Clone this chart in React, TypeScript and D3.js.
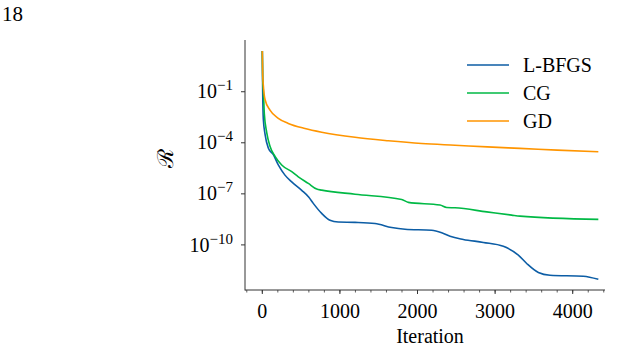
import React from "react";
import * as d3 from "d3";

// residual R vs iteration
const lbfgsIter = [0, 5, 13, 35, 77, 142, 206, 292, 379, 508, 600, 657, 765, 872, 979, 1195, 1452, 1667, 1839, 2183, 2312, 2419, 2590, 2848, 3106, 3299, 3407, 3557, 3707, 4137, 4330];
const lbfgsR = [2.5e1, 1e-1, 2.5e-3, 3.2e-4, 5.0e-5, 2.0e-5, 5.0e-6, 1.26e-6, 5.0e-7, 1.6e-7, 6.3e-8, 2.75e-8, 7.1e-9, 2.8e-9, 2.2e-9, 2.1e-9, 1.8e-9, 1.05e-9, 8.3e-10, 7.2e-10, 5.1e-10, 3.2e-10, 2.1e-10, 1.4e-10, 8.3e-11, 2.5e-11, 8.1e-12, 2.4e-12, 1.66e-12, 1.45e-12, 9.5e-13];

const cgIter = [0, 5, 13, 26, 57, 99, 164, 250, 379, 464, 593, 701, 765, 1195, 1796, 1882, 2290, 2376, 2483, 2892, 3214, 3321, 4330];
const cgR = [2.5e1, 5.0e-1, 1.26e-1, 5.0e-3, 4.0e-4, 6.3e-5, 1.6e-5, 5.0e-6, 2.0e-6, 1.0e-6, 4.1e-7, 1.9e-7, 1.66e-7, 9.5e-8, 4.7e-8, 3.16e-8, 2.2e-8, 1.58e-8, 1.51e-8, 8.7e-9, 5.6e-9, 4.9e-9, 3.16e-9];

const gdIter = [0, 5, 13, 35, 99, 206, 335, 550, 765, 1195, 1624, 2054, 2483, 2900, 3321, 3800, 4330];
const gdR = [2.5e1, 1.0, 2.5e-1, 3.5e-2, 8.3e-3, 2.75e-3, 1.38e-3, 6.9e-4, 4.2e-4, 2.1e-4, 1.32e-4, 9.1e-5, 7.2e-5, 5.75e-5, 4.7e-5, 3.7e-5, 2.95e-5];

const seriesNames = ["L-BFGS", "CG", "GD"];
const xMajorTicks = [0, 1000, 2000, 3000, 4000];
const xMinorTicks = d3.range(-200, 4401, 200);
const yTickExps = [-1, -4, -7, -10];

const colors: Record<string, string> = {
  "L-BFGS": "#0C5DA5",
  "CG": "#00B945",
  "GD": "#FF9500",
};

const serif = "'Liberation Serif', 'Times New Roman', serif";

export default function App() {
  const left = 245, right = 605, top = 40, bottom = 290;

  const x = d3.scaleLinear().domain([-223, 4416]).range([left, right]);
  const y = d3.scaleLog().domain([Math.pow(10, -12.65), Math.pow(10, 2.04)]).range([bottom, top]);

  const line = d3
    .line<[number, number]>()
    .x((d) => x(d[0]))
    .y((d) => y(d[1]))
    .curve(d3.curveMonotoneX);

  const series = [
    { name: "L-BFGS", pts: lbfgsIter.map((it, i) => [it, lbfgsR[i]] as [number, number]) },
    { name: "CG", pts: cgIter.map((it, i) => [it, cgR[i]] as [number, number]) },
    { name: "GD", pts: gdIter.map((it, i) => [it, gdR[i]] as [number, number]) },
  ];

  const axisColor = "#333";

  return (
    <svg
      width={622}
      height={350}
      style={{ position: "absolute", left: 0, top: 0, background: "#fff" }}
    >
      <text x={2} y={21} fontFamily={serif} fontSize={21} fill="#000">18</text>

      {series.map((s) => (
        <path key={s.name} d={line(s.pts) || ""} fill="none" stroke={colors[s.name]} strokeWidth={1.6} />
      ))}

      {/* spines */}
      <line x1={left} x2={left} y1={top} y2={bottom + 0.5} stroke={axisColor} strokeWidth={1} />
      <line x1={left} x2={right} y1={bottom} y2={bottom} stroke={axisColor} strokeWidth={1} />

      {/* x ticks */}
      {xMinorTicks.map((t) => (
        <line key={"m" + t} x1={x(t)} x2={x(t)} y1={bottom} y2={bottom + 2.5} stroke={axisColor} strokeWidth={0.8} />
      ))}
      {xMajorTicks.map((t) => (
        <g key={"M" + t}>
          <line x1={x(t)} x2={x(t)} y1={bottom} y2={bottom + 4} stroke={axisColor} strokeWidth={1} />
          <text x={x(t)} y={318} textAnchor="middle" fontFamily={serif} fontSize={20} fill="#000">{t}</text>
        </g>
      ))}
      <text x={430} y={343} textAnchor="middle" fontFamily={serif} fontSize={20} fill="#000">Iteration</text>

      {/* y ticks */}
      {yTickExps.map((e) => {
        const ty = y(Math.pow(10, e));
        return (
          <g key={"y" + e}>
            <line x1={left - 4} x2={left} y1={ty} y2={ty} stroke={axisColor} strokeWidth={1} />
            <text x={233} y={ty + 6.6} textAnchor="end" fontFamily={serif} fontSize={20} fill="#000">
              10
              <tspan fontSize={15} dy={-8}>{"\u2212" + Math.abs(e)}</tspan>
            </text>
          </g>
        );
      })}
      <text
        transform="translate(173,158) rotate(-90)"
        textAnchor="middle"
        fontFamily="'DejaVu Serif', serif"
        fontSize={22}
        fill="#000"
      >
        {"\u211B"}
      </text>

      {/* legend */}
      {seriesNames.map((n, i) => (
        <g key={"l" + n} transform={`translate(0,${65 + i * 28})`}>
          <line x1={467} x2={509} y1={0} y2={0} stroke={colors[n]} strokeWidth={1.6} />
          <text x={523} y={6.6} fontFamily={serif} fontSize={20} fill="#000">{n}</text>
        </g>
      ))}
    </svg>
  );
}
